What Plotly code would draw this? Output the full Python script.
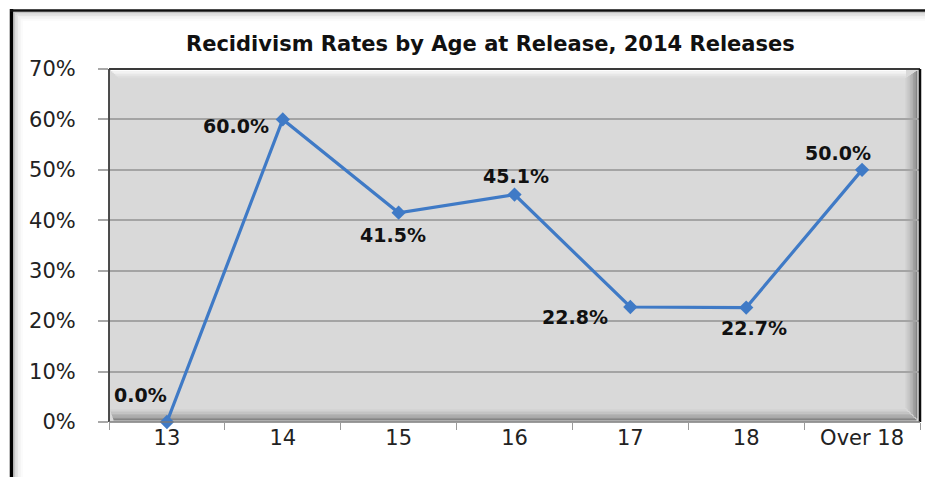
import plotly.graph_objects as go

# Recidivism rate (%) for juveniles released in 2014, by age at release
ages = ["13", "14", "15", "16", "17", "18", "Over 18"]
rates = [0.0, 60.0, 41.5, 45.1, 22.8, 22.7, 50.0]
y_ticks = [0, 10, 20, 30, 40, 50, 60, 70]
y_tick_text = [f"{t}%" for t in y_ticks]
title_text = "Recidivism Rates by Age at Release, 2014 Releases"

# pixel offsets of each value label from its point (dx right, dy up)
label_shift = [(-26, 27), (-47, -7), (-6, -22), (1, 19), (-55, -10), (8, -20), (-24, 17)]

W, H = 925, 477
ML, MR, MT, MB = 109, 5, 69, 55
PW, PH = W - ML - MR, H - MT - MB

LINE = "#3f7ac6"
FONT = "DejaVu Sans"


def px_x(p):
    return (p - ML) / PW


def px_y(p):
    return (H - MB - p) / PH


fig = go.Figure()
fig.add_trace(go.Scatter(
    x=ages, y=rates, mode="lines+markers",
    line=dict(color=LINE, width=3.2),
    marker=dict(symbol="diamond", size=11, color=LINE),
    hoverinfo="skip", cliponaxis=False,
))

annotations = []
for i, (r, (dx, dy)) in enumerate(zip(rates, label_shift)):
    # category axis: position labels by category index
    annotations.append(dict(
        x=i, y=r, xref="x", yref="y", text=f"{r:.1f}%", showarrow=False,
        xshift=dx, yshift=dy,
        font=dict(family=FONT, size=19, color="#111111", weight="bold"),
    ))

# chart title
annotations.append(dict(
    x=px_x(490), y=px_y(44), xref="paper", yref="paper", text=title_text,
    showarrow=False, xanchor="center", yanchor="middle",
    font=dict(family=FONT, size=21, color="#111111", weight="bold"),
))

shapes = []

# outer frame of the chart area (heavy black edge at left and top)
for i, c in enumerate(["#c4c4c4", "#d6d6d6", "#e4e4e4", "#eeeeee", "#f5f5f5", "#fafafa"]):
    shapes.append(dict(type="line", xref="paper", yref="paper",
                       x0=px_x(14.5 + 1.5 * i), x1=px_x(14.5 + 1.5 * i),
                       y0=px_y(12 + 1.5 * i), y1=px_y(H),
                       line=dict(color=c, width=1.6)))
    shapes.append(dict(type="line", xref="paper", yref="paper",
                       x0=px_x(14 + 1.5 * i), x1=px_x(W),
                       y0=px_y(12.5 + 1.5 * i), y1=px_y(12.5 + 1.5 * i),
                       line=dict(color=c, width=1.6)))
shapes.append(dict(type="line", xref="paper", yref="paper",
                   x0=px_x(11.5), x1=px_x(11.5), y0=px_y(9), y1=px_y(H),
                   line=dict(color="#000000", width=3.5)))
shapes.append(dict(type="line", xref="paper", yref="paper",
                   x0=px_x(10), x1=px_x(W), y0=px_y(10.5), y1=px_y(10.5),
                   line=dict(color="#111111", width=2.5)))

# bevel of the plot area: light edge at top, shaded edges at right and bottom
for i, op in enumerate([0.95, 0.75, 0.55, 0.38, 0.24, 0.12]):
    yy = 1 - (1.5 + 1.4 * i) / PH
    shapes.append(dict(type="line", xref="x domain", yref="y domain", layer="below",
                       x0=(2 + 1.4 * i) / PW, x1=1 - 14 / PW, y0=yy, y1=yy,
                       line=dict(color=f"rgba(255,255,255,{op})", width=1.5)))
shade = ["#d2d2d2", "#cbcbcb", "#c3c3c3", "#b9b9b9", "#aeaeae", "#a1a1a1", "#939393", "#848484"]
for i, c in enumerate(shade):
    xx = 1 - (14 - 1.5 * i) / PW
    shapes.append(dict(type="line", xref="x domain", yref="y domain", layer="below",
                       x0=xx, x1=xx, y0=(14 - 1.5 * i) / PH, y1=1 - (9 - i) / PH,
                       line=dict(color=c, width=1.6)))
    yy = (12 - 1.4 * i) / PH
    shapes.append(dict(type="line", xref="x domain", yref="y domain", layer="below",
                       x0=(1 + 0.5 * i) / PW, x1=1 - (14 - 1.5 * i) / PW, y0=yy, y1=yy,
                       line=dict(color=c, width=1.5)))
# plot area outline
shapes.append(dict(type="line", xref="x domain", yref="y domain",
                   x0=0, x1=0, y0=0, y1=1, line=dict(color="#3a3a3a", width=1.8)))
shapes.append(dict(type="line", xref="x domain", yref="y domain",
                   x0=0, x1=1, y0=1, y1=1, line=dict(color="#3a3a3a", width=1.8)))
shapes.append(dict(type="line", xref="x domain", yref="y domain",
                   x0=1, x1=1, y0=0, y1=1, line=dict(color="#0c0c0c", width=2.5)))
shapes.append(dict(type="line", xref="x domain", yref="y domain",
                   x0=0, x1=1, y0=0, y1=0, line=dict(color="#7a7a7a", width=1.5)))

fig.update_layout(
    width=W, height=H,
    margin=dict(l=ML, r=MR, t=MT, b=MB, pad=0),
    paper_bgcolor="#ffffff", plot_bgcolor="#d9d9d9",
    showlegend=False,
    annotations=annotations, shapes=shapes,
    xaxis=dict(
        type="category", range=[-0.5, 6.5], tickson="boundaries",
        ticks="outside", ticklen=7, tickcolor="#9a9a9a", tickwidth=1.2,
        ticklabelstandoff=1,
        showgrid=False, showline=False, zeroline=False,
        tickfont=dict(family=FONT, size=21, color="#222222"),
    ),
    yaxis=dict(
        range=[0, 70], tickvals=y_ticks, ticktext=y_tick_text,
        ticks="outside", ticklen=10, tickcolor="#a8a8a8", tickwidth=1.5,
        ticklabelstandoff=18,
        showgrid=True, gridcolor="#a4a4a4", gridwidth=1.5,
        showline=False, zeroline=False,
        tickfont=dict(family=FONT, size=21, color="#222222"),
    ),
)

fig.write_html("out.html")
